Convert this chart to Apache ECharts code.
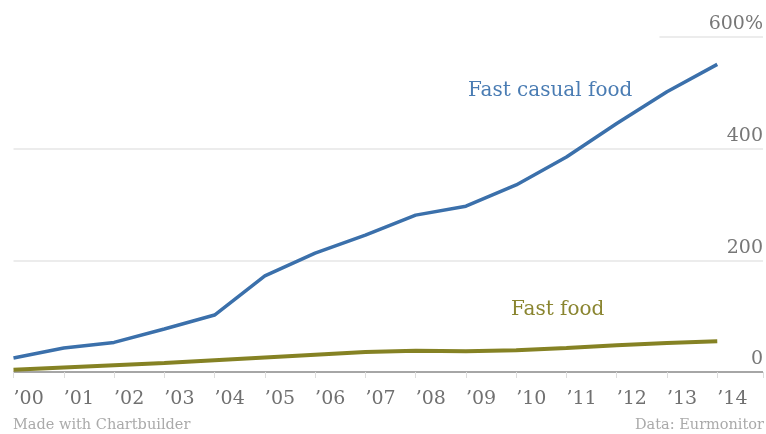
<!DOCTYPE html>
<html><head><meta charset="utf-8">
<script src="https://cdn.jsdelivr.net/npm/echarts@6/dist/echarts.min.js"></script>
<style>html,body{margin:0;padding:0;background:#fff}#c{width:766px;height:434px}</style>
</head><body><div id="c"></div>
<script>
const years = ['’00','’01','’02','’03','’04','’05','’06','’07','’08','’09','’10','’11','’12','’13','’14'];
const fastCasual = [25, 43, 53, 77, 102, 172, 213, 245, 281, 297, 335, 385, 445, 502, 551];
const fastFood = [4, 8, 12, 16, 21, 26, 31, 36, 38, 37, 39, 43, 48, 52, 55];
const yTicks = [0, 200, 400, 600];

const F = 'DejaVu Serif';
const chart = echarts.init(document.getElementById('c'), null, {renderer:'canvas'});
const pair = arr => arr.map((v,i)=>[i,v]);
chart.setOption({
  animation:false,
  grid:{left:13.5, right:0, top:37, bottom:62},
  xAxis:{type:'value', min:0, max:14.91, interval:1, offset:10,
    axisLine:{show:false},
    axisTick:{show:true, length:6, lineStyle:{color:'#dddddd', width:1}},
    splitLine:{show:false},
    axisLabel:{margin:8, align:'left', fontFamily:F, fontSize:19, color:'#707070',
      formatter:v=> (Number.isInteger(v) && v>=0 && v<years.length) ? years[v] : ''}},
  yAxis:{type:'value', min:0, max:600, interval:200, position:'right',
    axisLine:{show:false}, axisTick:{show:false},
    splitLine:{show:true, lineStyle:{color:['#888888','#e6e6e6','#e6e6e6','rgba(0,0,0,0)'], width:1.5}},
    axisLabel:{inside:true, verticalAlign:'bottom', margin:0, fontFamily:F, fontSize:19, color:'#777',
      padding:[0,0,3,0],
      formatter:v=> v===600 ? v+'%' : String(v)}},
  series:[
    {type:'line', data:pair(fastFood), symbol:'none', lineStyle:{color:'#858224', width:4}, z:3},
    {type:'line', data:pair(fastCasual), symbol:'none', lineStyle:{color:'#3b70ab', width:3.5}, z:4,
     markLine:{silent:true, symbol:'none', label:{show:false},
       lineStyle:{color:'#e6e6e6', width:1.5, type:'solid'},
       data:[[{coord:[12.85, yTicks[3]]},{coord:[14.91, yTicks[3]]}]]}}
  ],
  title:[
    {text:'Fast casual food', left:468, top:81, padding:0, textStyle:{fontFamily:F, fontSize:20, fontWeight:'normal', color:'#4a7cb3'}},
    {text:'Fast food', left:511, top:300, padding:0, textStyle:{fontFamily:F, fontSize:20, fontWeight:'normal', color:'#8a8530'}},
    {text:'Made with Chartbuilder', left:13, top:418, padding:0, textStyle:{fontFamily:F, fontSize:14.5, fontWeight:'normal', color:'#aaaaaa'}},
    {text:'Data: Eurmonitor', right:2, top:418, padding:0, textStyle:{fontFamily:F, fontSize:14.5, fontWeight:'normal', color:'#aaaaaa'}}
  ]
});
</script></body></html>
